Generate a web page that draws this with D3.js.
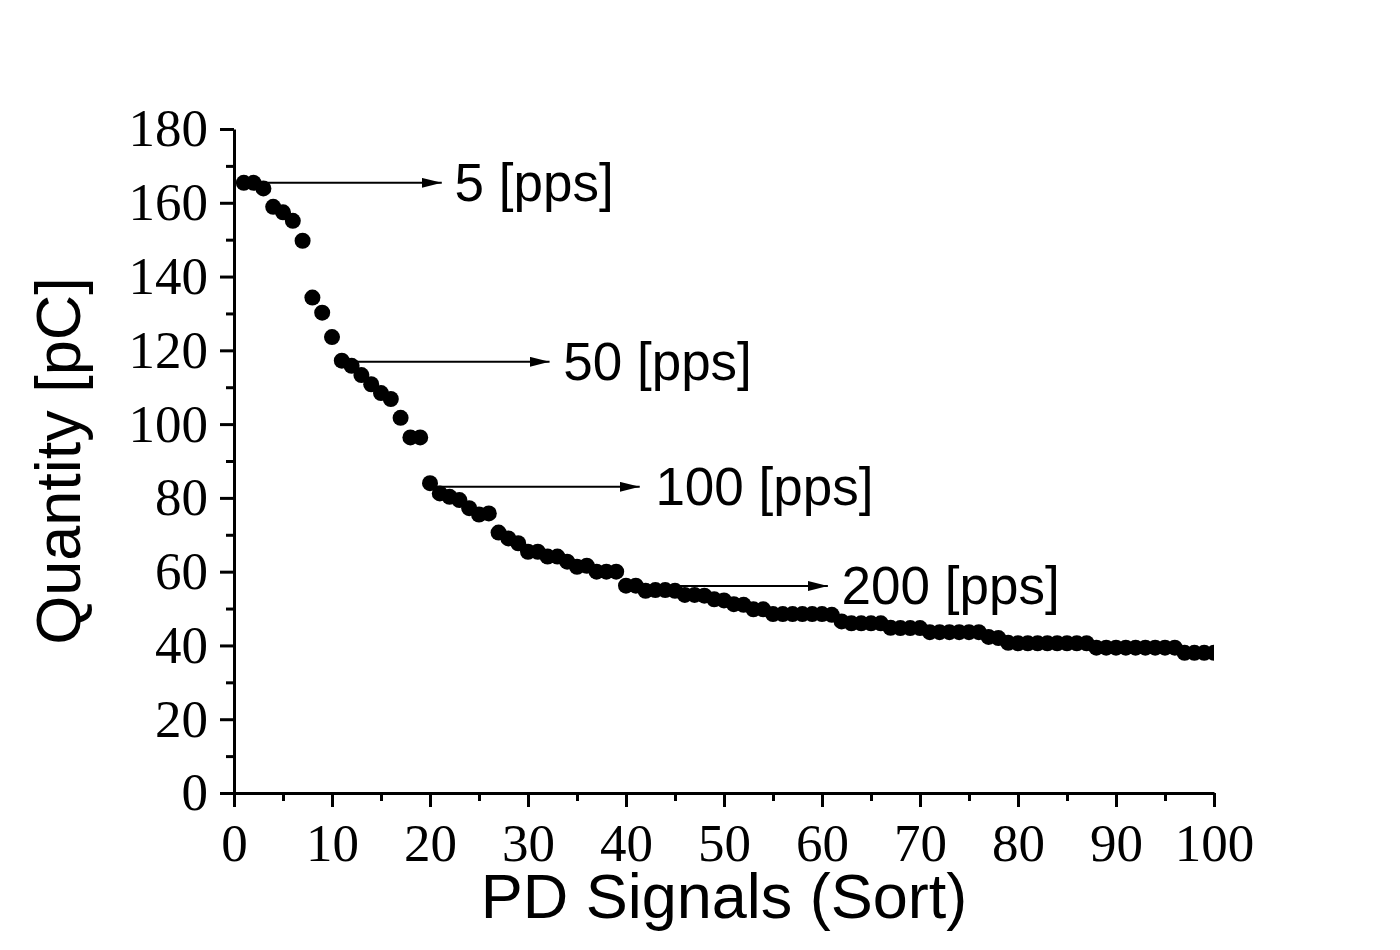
<!DOCTYPE html>
<html>
<head>
<meta charset="utf-8">
<script src="https://cdn.jsdelivr.net/npm/d3@7"></script>
<style>
  body { margin: 0; background: #fff; }
  svg { display: block; }
</style>
</head>
<body>
<div id="chart"></div>
<script>
// PD charge quantity, sorted descending (signal 1..100)
const quantity = [
  165.4, 165.4, 163.9, 158.9, 157.4, 155.1, 149.7, 134.3, 130.2, 123.6,
  117.2, 115.8, 113.3, 110.8, 108.4, 106.8, 101.7, 96.4, 96.4, 84.0,
  81.2, 80.3, 79.4, 77.2, 75.5, 75.8, 70.6, 69.0, 67.7, 65.4,
  65.4, 64.1, 64.1, 62.7, 61.3, 61.6, 60.0, 60.0, 60.0, 56.2,
  56.2, 54.8, 55.0, 55.0, 54.8, 53.7, 53.7, 53.5, 52.5, 52.2,
  51.2, 51.0, 49.8, 49.8, 48.5, 48.5, 48.5, 48.5, 48.5, 48.5,
  48.3, 46.5, 46.0, 46.0, 46.0, 46.0, 44.8, 44.7, 44.7, 44.7,
  43.6, 43.6, 43.6, 43.6, 43.6, 43.6, 42.3, 42.0, 40.7, 40.6,
  40.6, 40.6, 40.6, 40.6, 40.6, 40.6, 40.6, 39.4, 39.4, 39.4,
  39.4, 39.4, 39.4, 39.4, 39.4, 39.4, 38.0, 38.0, 38.0, 38.0
];

const xTicks = [0, 10, 20, 30, 40, 50, 60, 70, 80, 90, 100];
const xMinorTicks = [5, 15, 25, 35, 45, 55, 65, 75, 85, 95];
const yTicks = [0, 20, 40, 60, 80, 100, 120, 140, 160, 180];
const yMinorTicks = [10, 30, 50, 70, 90, 110, 130, 150, 170];

// annotations: arrow from (x0, y) to (x1, y), label starts at lx
const annLabels = ['5 [pps]', '50 [pps]', '100 [pps]', '200 [pps]'];
const annY = [165.4, 116.9, 83.0, 56.1];
const annX0 = [3.3, 12.5, 20.7, 45.5];
const annX1 = [21.2, 32.2, 41.4, 60.6];
const annLabelX = [22.5, 33.6, 43.0, 62.0];

const width = 1400, height = 950;
const margin = {top: 129, right: 186, bottom: 157, left: 234};
const plotW = width - margin.left - margin.right;
const plotH = height - margin.top - margin.bottom;

const svg = d3.select('#chart').append('svg')
  .attr('width', width)
  .attr('height', height);

const g = svg.append('g')
  .attr('transform', `translate(${margin.left}, ${margin.top})`);

const x = d3.scaleLinear().domain([0, 100]).range([0, plotW]);
const y = d3.scaleLinear().domain([0, 180]).range([plotH, 0]);

svg.append('defs').append('clipPath')
  .attr('id', 'plot-clip')
  .append('rect')
  .attr('x', 0).attr('y', -10)
  .attr('width', plotW).attr('height', plotH + 10);

// data points
g.append('g')
  .attr('clip-path', 'url(#plot-clip)')
  .selectAll('circle')
  .data(quantity)
  .enter()
  .append('circle')
  .attr('cx', (d, i) => x(i + 1))
  .attr('cy', d => y(d))
  .attr('r', 8)
  .attr('fill', '#000');

// minor ticks
g.append('g')
  .attr('transform', `translate(0, ${plotH})`)
  .call(d3.axisBottom(x).tickValues(xMinorTicks).tickSize(8).tickFormat(''))
  .call(a => a.select('.domain').remove());
g.append('g')
  .call(d3.axisLeft(y).tickValues(yMinorTicks).tickSize(8).tickFormat(''))
  .call(a => a.select('.domain').remove());

// major axes
g.append('g')
  .attr('transform', `translate(0, ${plotH})`)
  .call(d3.axisBottom(x).tickValues(xTicks).tickSize(14).tickPadding(16).tickSizeOuter(0));
g.append('g')
  .call(d3.axisLeft(y).tickValues(yTicks).tickSize(14).tickPadding(12).tickSizeOuter(0));

g.selectAll('.domain, .tick line')
  .attr('stroke', '#000')
  .attr('stroke-width', 3);

g.selectAll('.tick text')
  .attr('fill', '#000')
  .style('font-family', '"Liberation Serif", "Times New Roman", serif')
  .style('font-size', '53px');

// annotation arrows
svg.select('defs').append('marker')
  .attr('id', 'arrowhead')
  .attr('viewBox', '0 0 20 10')
  .attr('refX', 20).attr('refY', 5)
  .attr('markerUnits', 'userSpaceOnUse')
  .attr('markerWidth', 20).attr('markerHeight', 10)
  .attr('orient', 'auto')
  .append('path')
  .attr('d', 'M0,0 L20,5 L0,10 Z')
  .attr('fill', '#000');

annLabels.forEach((label, i) => {
  g.append('line')
    .attr('x1', x(annX0[i])).attr('x2', x(annX1[i]))
    .attr('y1', y(annY[i])).attr('y2', y(annY[i]))
    .attr('stroke', '#000')
    .attr('stroke-width', 2)
    .attr('marker-end', 'url(#arrowhead)');
  g.append('text')
    .attr('x', x(annLabelX[i]))
    .attr('y', y(annY[i]) + 18)
    .style('font-family', '"Liberation Sans", Arial, sans-serif')
    .style('font-size', '53px')
    .attr('fill', '#000')
    .text(label);
});

// axis titles
svg.append('text')
  .attr('x', margin.left + plotW / 2)
  .attr('y', 918)
  .attr('text-anchor', 'middle')
  .style('font-family', '"Liberation Sans", Arial, sans-serif')
  .style('font-size', '63px')
  .attr('fill', '#000')
  .text('PD Signals (Sort)');

svg.append('text')
  .attr('transform', `translate(80, ${margin.top + plotH / 2}) rotate(-90)`)
  .attr('text-anchor', 'middle')
  .style('font-family', '"Liberation Sans", Arial, sans-serif')
  .style('font-size', '63px')
  .attr('fill', '#000')
  .text('Quantity [pC]');
</script>
</body>
</html>
